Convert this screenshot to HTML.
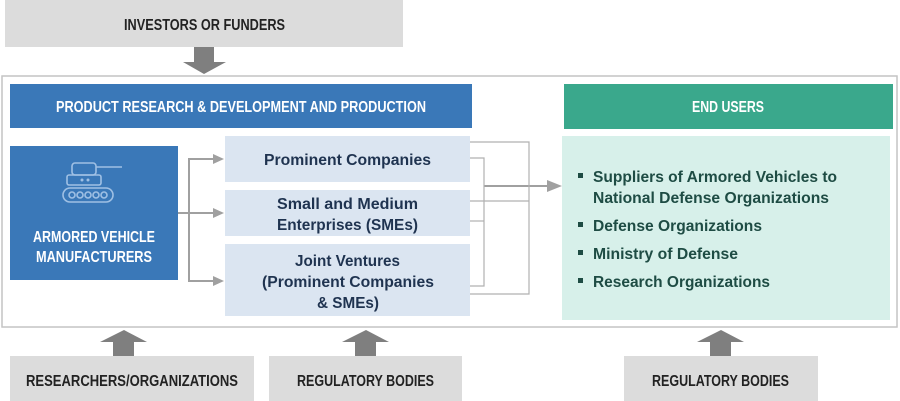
<!DOCTYPE html>
<html><head><meta charset="utf-8"><style>
body{margin:0;background:#fff;}
svg{display:block}
.h{font-family:"Liberation Sans",sans-serif;font-weight:bold;}
.b{font-family:"Liberation Sans",sans-serif;font-weight:bold;}
</style></head><body>
<svg width="900" height="401" viewBox="0 0 900 401" xmlns="http://www.w3.org/2000/svg">
<rect x="5" y="0" width="398" height="47" fill="#dcdcdc"/>
<text x="124" y="30" class="h" font-size="16" fill="#222" textLength="161" lengthAdjust="spacingAndGlyphs">INVESTORS OR FUNDERS</text>
<polygon points="194,47 214,47 214,62 226,62 204,74 183,62 194,62" fill="#7f7f7f"/>
<rect x="2" y="76" width="895" height="251" fill="#fff" stroke="#c4c4c4" stroke-width="1.5"/>
<rect x="10" y="84" width="462" height="44" fill="#3a78b8"/>
<text x="56" y="112" class="h" font-size="16" fill="#fff" textLength="370" lengthAdjust="spacingAndGlyphs">PRODUCT RESEARCH &amp; DEVELOPMENT AND PRODUCTION</text>
<rect x="564" y="84" width="329" height="45" fill="#3aa88c"/>
<text x="692" y="112" class="h" font-size="16" fill="#fff" textLength="72" lengthAdjust="spacingAndGlyphs">END USERS</text>
<rect x="10" y="146" width="168" height="134" fill="#3a78b8"/>
<g stroke="#9fc0e4" stroke-width="1.6" fill="none">
<rect x="72" y="163" width="24" height="12" rx="3"/>
<line x1="96" y1="167" x2="122" y2="167"/>
<rect x="67" y="175" width="34" height="10" rx="2"/>
<rect x="63" y="188" width="50" height="14" rx="7"/>
<circle cx="72" cy="195" r="3"/><circle cx="80" cy="195" r="3"/><circle cx="88" cy="195" r="3"/><circle cx="96" cy="195" r="3"/><circle cx="104" cy="195" r="3"/>
</g>
<circle cx="82" cy="180" r="1.5" fill="#9fc0e4"/><circle cx="88" cy="180" r="1.5" fill="#9fc0e4"/>
<text x="33" y="242" class="h" font-size="16" fill="#fff" textLength="122" lengthAdjust="spacingAndGlyphs">ARMORED VEHICLE</text>
<text x="36" y="262" class="h" font-size="16" fill="#fff" textLength="116" lengthAdjust="spacingAndGlyphs">MANUFACTURERS</text>
<rect x="225" y="136" width="245" height="46" fill="#dbe5f1"/>
<rect x="225" y="190" width="245" height="46" fill="#dbe5f1"/>
<rect x="225" y="244" width="245" height="72" fill="#dbe5f1"/>
<g class="b" font-size="15.5" fill="#1f3350">
<text x="264" y="165" textLength="167" lengthAdjust="spacingAndGlyphs">Prominent Companies</text>
<text x="277" y="209" textLength="141" lengthAdjust="spacingAndGlyphs">Small and Medium</text>
<text x="277" y="230" textLength="141" lengthAdjust="spacingAndGlyphs">Enterprises (SMEs)</text>
<text x="295" y="266" textLength="105" lengthAdjust="spacingAndGlyphs">Joint Ventures</text>
<text x="262" y="287" textLength="172" lengthAdjust="spacingAndGlyphs">(Prominent Companies</text>
<text x="317" y="308" textLength="62" lengthAdjust="spacingAndGlyphs">&amp; SMEs)</text>
</g>
<g stroke="#a0a0a0" stroke-width="2" fill="none">
<polyline points="178,213 189,213"/>
<polyline points="214,159 189,159 189,281 214,281"/>
<line x1="189" y1="213" x2="214" y2="213"/>
<line x1="484" y1="186" x2="548" y2="186"/>
</g>
<g fill="#a0a0a0">
<polygon points="213,154 224,159 213,164"/>
<polygon points="213,208 224,213 213,218"/>
<polygon points="213,276 224,281 213,286"/>
<polygon points="547,180 562,186 547,192"/>
</g>
<g stroke="#b0b0b0" stroke-width="1.2" fill="none">
<polyline points="470,142 529,142 529,294 470,294"/>
<polyline points="470,158 484,158 484,286 470,286"/>
<line x1="470" y1="201" x2="529" y2="201"/>
<line x1="470" y1="221" x2="484" y2="221"/>
</g>
<rect x="562" y="136" width="328" height="184" fill="#d7f0ea"/>
<g fill="#1e4c44">
<rect x="578" y="173" width="5" height="5"/><rect x="578" y="222" width="5" height="5"/><rect x="578" y="250" width="5" height="5"/><rect x="578" y="278" width="5" height="5"/>
</g>
<g class="b" font-size="16" fill="#1e4c44">
<text x="593" y="182" textLength="244" lengthAdjust="spacingAndGlyphs">Suppliers of Armored Vehicles to</text>
<text x="593" y="203" textLength="236" lengthAdjust="spacingAndGlyphs">National Defense Organizations</text>
<text x="593" y="231" textLength="169" lengthAdjust="spacingAndGlyphs">Defense Organizations</text>
<text x="593" y="259" textLength="145" lengthAdjust="spacingAndGlyphs">Ministry of Defense</text>
<text x="593" y="287" textLength="177" lengthAdjust="spacingAndGlyphs">Research Organizations</text>
</g>
<g fill="#7f7f7f">
<polygon points="113,356 134,356 134,342 147,342 124,330 100,342 113,342"/>
<polygon points="355,356 376,356 376,342 389,342 366,330 342,342 355,342"/>
<polygon points="710,356 731,356 731,342 744,342 721,330 697,342 710,342"/>
</g>
<rect x="10" y="356" width="244" height="45" fill="#dcdcdc"/>
<rect x="269" y="356" width="193" height="45" fill="#dcdcdc"/>
<rect x="624" y="356" width="194" height="45" fill="#dcdcdc"/>
<g class="h" font-size="16" fill="#222">
<text x="26" y="386" textLength="212" lengthAdjust="spacingAndGlyphs">RESEARCHERS/ORGANIZATIONS</text>
<text x="297" y="386" textLength="137" lengthAdjust="spacingAndGlyphs">REGULATORY BODIES</text>
<text x="652" y="386" textLength="137" lengthAdjust="spacingAndGlyphs">REGULATORY BODIES</text>
</g>
</svg>
</body></html>
